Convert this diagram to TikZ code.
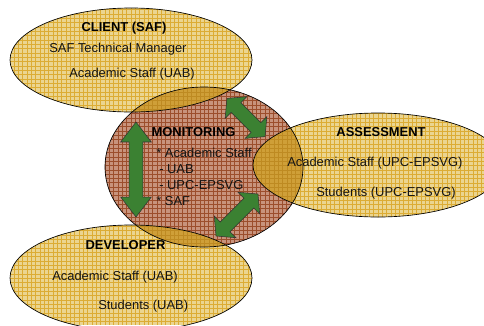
\documentclass[tikz,border=0pt]{standalone}
\usepackage{fontspec}
\setmainfont{Liberation Sans}
\usetikzlibrary{shapes.arrows}
\definecolor{yel}{HTML}{EBD590}
\definecolor{yelgrid}{HTML}{DCAC34}
\definecolor{bro}{HTML}{C8937C}
\definecolor{brogrid}{HTML}{9C4E2C}
\definecolor{ovl}{HTML}{CF9F38}
\definecolor{ovlgrid}{HTML}{BE8A22}
\definecolor{grn}{HTML}{3B8132}
\tikzset{
 x=0.75pt,y=-0.75pt,
 lab/.style={font=\fontsize{9.7}{11}\selectfont,inner sep=0pt,text=black!92,anchor=mid west,yshift=-0.6pt},
 headlab/.style={font=\fontsize{9.7}{11}\selectfont\bfseries,inner sep=0pt,text=black,anchor=mid,yshift=-0.6pt},
 dblarrow/.style={shape=double arrow,draw=black!80,line width=0.4pt,fill=grn,inner sep=0pt,
   double arrow head extend=6.3pt,transform shape},
 rim/.style={draw=black,line width=0.5pt}
}
\newcommand{\gridlines}[2]{%
 \foreach \i in {0,...,112}{\draw[#1,line width=#2] ({\i*4.33+1},0)--({\i*4.33+1},325);}
 \foreach \i in {0,...,75}{\draw[#1,line width=#2] (0,{\i*4.33+1})--(484,{\i*4.33+1});}
}
\newcommand{\panel}[3]{\fill[#1] (0,0) rectangle (484,325); \gridlines{#2}{#3}}
\newcommand{\shaft}{\rule{0pt}{10pt}}
\begin{document}
\begin{tikzpicture}
\useasboundingbox (0,0) rectangle (484,325);
\clip (0,0) rectangle (484,325);
% monitoring
\begin{scope}\clip (204,167) ellipse [x radius=99,y radius=80]; \panel{bro}{brogrid}{0.55pt}\end{scope}
% yellow ellipses
\begin{scope}\clip (131,60) ellipse [x radius=121,y radius=52]; \panel{yel}{yelgrid}{0.3pt}\end{scope}
\begin{scope}\clip (131,278) ellipse [x radius=121,y radius=53]; \panel{yel}{yelgrid}{0.3pt}\end{scope}
\begin{scope}\clip (378,165) ellipse [x radius=125,y radius=52]; \panel{yel}{yelgrid}{0.3pt}\end{scope}
% overlaps
\begin{scope}\clip (204,167) ellipse [x radius=99,y radius=80]; \clip (131,60) ellipse [x radius=121,y radius=52]; \panel{ovl}{ovlgrid}{0.3pt}\end{scope}
\begin{scope}\clip (204,167) ellipse [x radius=99,y radius=80]; \clip (131,278) ellipse [x radius=121,y radius=53]; \panel{ovl}{ovlgrid}{0.3pt}\end{scope}
\begin{scope}\clip (204,167) ellipse [x radius=99,y radius=80]; \clip (378,165) ellipse [x radius=125,y radius=52]; \panel{ovl}{ovlgrid}{0.3pt}\end{scope}
% outlines
\draw[rim] (204,167) ellipse [x radius=99,y radius=80];
\draw[rim] (131,60) ellipse [x radius=121,y radius=52];
\draw[rim] (131,278) ellipse [x radius=121,y radius=53];
\draw[rim] (378,165) ellipse [x radius=125,y radius=52];
% arrows
\node[dblarrow,rotate=90,minimum height=71.25pt,double arrow tip angle=75] (arrowv) at (136,169.5) {\shaft};
\node[dblarrow,rotate=-45,minimum height=40.5pt,double arrow tip angle=100] (arrowa) at (246,117.5) {\shaft};
\node[dblarrow,rotate=45,minimum height=44.5pt,double arrow tip angle=100] (arrowd) at (237,215) {\shaft};
% texts
\node[headlab] (tclient) at (124,27) {CLIENT (SAF)};
\node[lab] (tc1) at (49,48) {SAF Technical Manager};
\node[lab] (tc2) at (69,73) {Academic Staff (UAB)};
\node[headlab] (tmon) at (193.5,132) {MONITORING};
\node[lab] (tm1) at (156,153) {* Academic Staff};
\node[lab] (tm2) at (159,169) {- UAB};
\node[lab] (tm3) at (159,185) {- UPC-EPSVG};
\node[lab] (tm4) at (156,201) {* SAF};
\node[headlab] (tass) at (381,132) {ASSESSMENT};
\node[lab] (ta1) at (287,162) {Academic Staff (UPC-EPSVG)};
\node[lab] (ta2) at (316,192) {Students (UPC-EPSVG)};
\node[headlab] (tdev) at (125.5,245) {DEVELOPER};
\node[lab] (td1) at (52,276) {Academic Staff (UAB)};
\node[lab] (td2) at (98,305) {Students (UAB)};
\end{tikzpicture}
\end{document}
